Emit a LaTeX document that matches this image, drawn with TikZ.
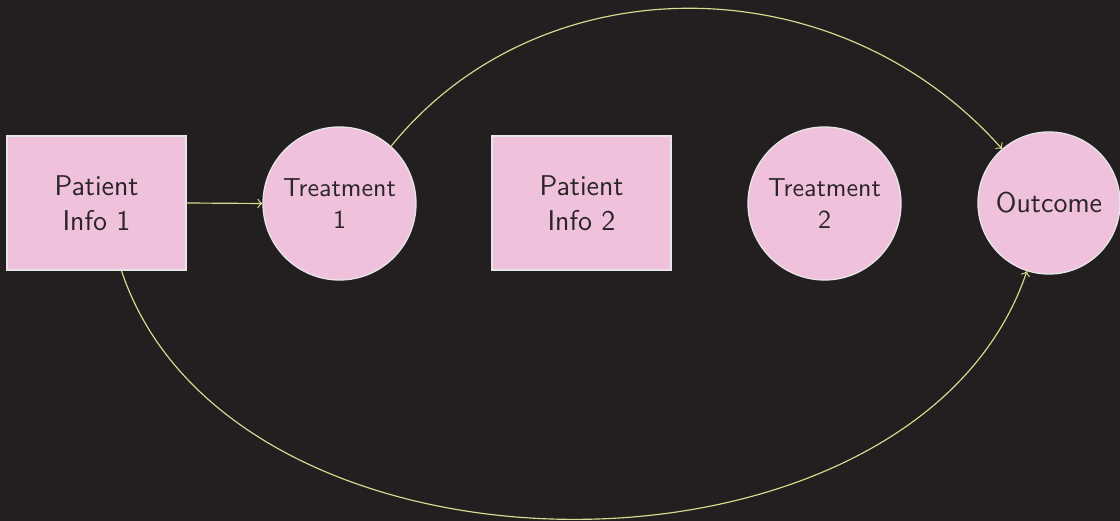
\documentclass[tikz,border=0pt]{standalone}
\usepackage{fontspec}
\renewcommand{\familydefault}{\sfdefault}
\definecolor{bgc}{HTML}{231F20}
\definecolor{fillc}{HTML}{F0C1DD}
\definecolor{edgec}{HTML}{E6E6E6}
\definecolor{txtc}{HTML}{2A2527}
\definecolor{arrc}{HTML}{D9D98F}
\begin{document}
\begin{tikzpicture}[x=0.385pt,y=-0.385pt,
  box/.style={draw=edgec,line width=0.5pt,fill=fillc,text=txtc,rectangle,minimum width=68.9pt,minimum height=51.6pt,align=center,inner sep=0pt,font=\sffamily\fontsize{11}{13.5}\selectfont},
  circ/.style={draw=edgec,line width=0.5pt,fill=fillc,text=txtc,circle,minimum size=58.9pt,align=center,inner sep=0pt,font=\sffamily\fontsize{10}{12.3}\selectfont},
  conn/.style={draw=arrc,line width=0.45pt,->}]
\fill[bgc] (0,0) rectangle (1120,521);
\useasboundingbox (0,0) rectangle (1120,521);
\node[box] (p1) at (96.5,203) {Patient\\Info 1};
\node[circ] (t1) at (339.5,203.5) {Treatment\\1};
\node[box] (p2) at (581.5,203) {Patient\\Info 2};
\node[circ] (t2) at (824.5,203.5) {Treatment\\2};
\node[circ,minimum size=54.7pt,font=\sffamily\fontsize{11}{13.5}\selectfont] (o) at (1049,203) {Outcome};
\coordinate (ps) at ([xshift=9.6pt]p1.south);
\draw[conn] (p1.east) -- (t1.west);
\draw[conn] (t1.48) .. controls (540,-38) and (836,-38) .. (o.131);
\draw[conn] (ps) .. controls (232,602) and (915,602) .. (o.252);
\end{tikzpicture}
\end{document}
